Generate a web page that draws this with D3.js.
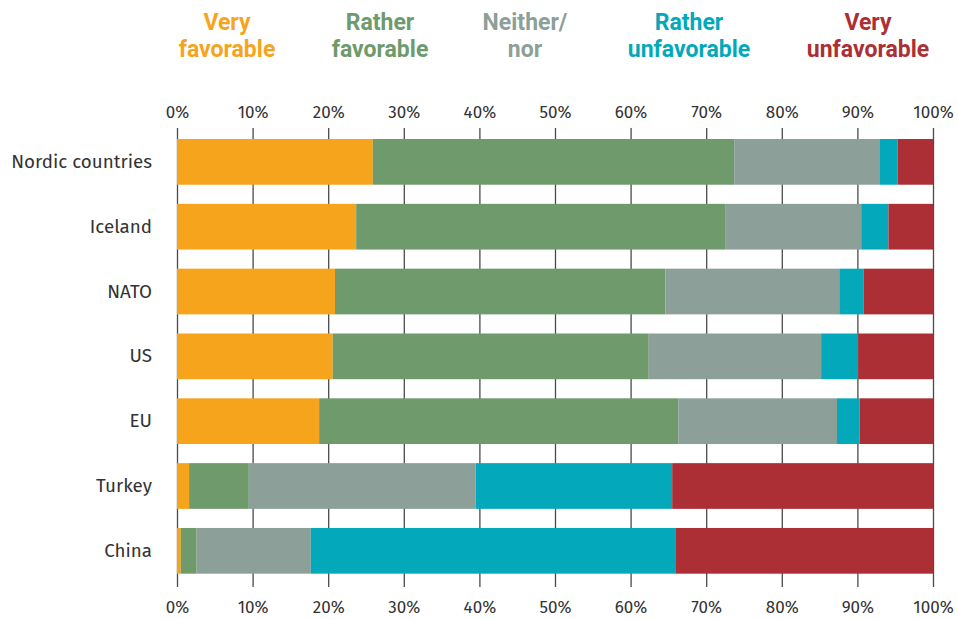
<html>

<body style="margin:0;background:#fff">
    <script src="https://d3js.org/d3.v7.min.js"></script>
    <div id="main"></div>

    <script>
        // survey answers, share of respondents in %
        var categories = ["Nordic countries", "Iceland", "NATO", "US", "EU", "Turkey", "China"];
        var answers = ["Very favorable", "Rather favorable", "Neither/nor", "Rather unfavorable", "Very unfavorable"];
        var legendLines = [["Very", "favorable"], ["Rather", "favorable"], ["Neither/", "nor"], ["Rather", "unfavorable"], ["Very", "unfavorable"]];

        var veryFavorable     = [25.9, 23.7, 20.9, 20.6, 18.8, 1.6, 0.5];
        var ratherFavorable   = [47.8, 48.8, 43.7, 41.8, 47.5, 7.9, 2.1];
        var neitherNor        = [19.2, 18.0, 23.0, 22.8, 21.0, 30.0, 15.1];
        var ratherUnfavorable = [2.4, 3.6, 3.2, 4.9, 3.0, 26.0, 48.3];
        var veryUnfavorable   = [4.7, 5.9, 9.2, 9.9, 9.7, 34.5, 34.0];

        var tickValues = [0, 10, 20, 30, 40, 50, 60, 70, 80, 90, 100];

        var colors = ["#F7A41D", "#6E9A6C", "#8C9F98", "#03A9BB", "#AC2F35"];
        // legend label centres (layout only)
        var legendX = [227, 380, 525, 689, 868];

        var width = 958, height = 619;
        var x0 = 177, x1 = 933, gridTop = 128, gridBottom = 587;

        var svg = d3.select("#main")
            .append("svg")
            .attr("width", width)
            .attr("height", height)
            .style("display", "block");

        // build rows for stacking
        var series = [veryFavorable, ratherFavorable, neitherNor, ratherUnfavorable, veryUnfavorable];
        var rows = categories.map(function (c, i) {
            var r = { category: c };
            answers.forEach(function (a, j) { r[a] = series[j][i]; });
            return r;
        });
        var stacked = d3.stack().keys(answers)(rows);

        var x = d3.scaleLinear().domain([0, 100]).range([x0, x1]);
        var y = d3.scaleBand()
            .domain(categories)
            .range([129.3, 583.4])
            .paddingInner(0.295)
            .paddingOuter(0.15);

        var font = "'Fira Sans', 'Noto Sans', sans-serif";

        // top axis with grid lines
        var topAxis = svg.append("g")
            .attr("transform", "translate(0," + gridTop + ")")
            .call(d3.axisTop(x).tickValues(tickValues).tickFormat(function (d) { return d + "%"; })
                .tickSize(-(gridBottom - gridTop)).tickPadding(10));
        topAxis.select(".domain").remove();
        topAxis.selectAll(".tick line").attr("stroke", "#4a4a4a").attr("stroke-width", 1.3);
        topAxis.selectAll(".tick text").attr("fill", "#333").style("font-family", font).style("font-size", "17px");

        // bottom labels
        var bottomAxis = svg.append("g")
            .attr("transform", "translate(0," + gridBottom + ")")
            .call(d3.axisBottom(x).tickValues(tickValues).tickFormat(function (d) { return d + "%"; })
                .tickSize(0).tickPadding(14));
        bottomAxis.select(".domain").remove();
        bottomAxis.selectAll(".tick text").attr("fill", "#333").style("font-family", font).style("font-size", "17px");

        // category labels
        var leftAxis = svg.append("g")
            .attr("transform", "translate(" + x0 + ",0)")
            .call(d3.axisLeft(y).tickSize(0).tickPadding(25));
        leftAxis.select(".domain").remove();
        leftAxis.selectAll(".tick text").attr("fill", "#333").style("font-family", font).style("font-size", "18.8px");

        // bars
        svg.append("g")
            .selectAll("g")
            .data(stacked)
            .enter()
            .append("g")
            .attr("fill", function (d, i) { return colors[i]; })
            .selectAll("rect")
            .data(function (d) { return d; })
            .enter()
            .append("rect")
            .attr("x", function (d) { return x(d[0]); })
            .attr("width", function (d) { return x(d[1]) - x(d[0]); })
            .attr("y", function (d) { return y(d.data.category); })
            .attr("height", y.bandwidth());

        // legend
        var legend = svg.append("g")
            .selectAll("text")
            .data(legendLines)
            .enter()
            .append("text")
            .attr("x", function (d, i) { return legendX[i]; })
            .attr("y", 30)
            .attr("text-anchor", "middle")
            .attr("fill", function (d, i) { return colors[i]; })
            .style("font-family", "Roboto, sans-serif")
            .style("font-weight", "bold")
            .style("font-size", "23px");
        legend.selectAll("tspan")
            .data(function (d) { return d; })
            .enter()
            .append("tspan")
            .attr("x", function () { return d3.select(this.parentNode).attr("x"); })
            .attr("dy", function (d, i) { return i === 0 ? 0 : 27; })
            .text(function (d) { return d; });
    </script>
</body>

</html>
